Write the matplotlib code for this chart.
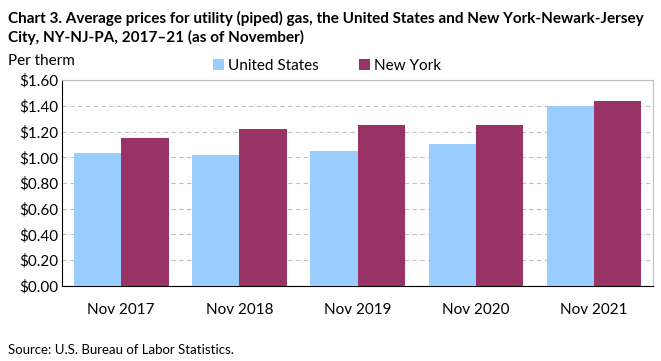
import numpy as np
import matplotlib
matplotlib.use("Agg")
from matplotlib import pyplot as plt

plt.rcParams['font.family'] = ['Lato', 'DejaVu Sans']

years = ['Nov 2017', 'Nov 2018', 'Nov 2019', 'Nov 2020', 'Nov 2021']
us = [1.03, 1.02, 1.05, 1.10, 1.40]
ny = [1.15, 1.22, 1.25, 1.25, 1.44]
yticks = np.arange(0, 1.61, 0.2)

fig = plt.figure(figsize=(6.61, 3.61), dpi=100)
ax = fig.add_axes([0.094, 0.208, 0.894, 0.570])

x = np.arange(len(years))
w = 0.4
ax.bar(x - w/2, us, w, color='#99CCFF', label='United States', zorder=3)
ax.bar(x + w/2, ny, w, color='#993366', label='New York', zorder=3)

ax.set_xlim(-0.5, len(years) - 0.5)
ax.set_ylim(0, 1.6)
ax.set_yticks(yticks)
ax.set_yticklabels(['$%.2f' % v for v in yticks])
ax.set_xticks(x)
ax.set_xticklabels(years)
ax.tick_params(axis='both', labelsize=11, colors='black', length=0)
ax.tick_params(axis='y', pad=3)
ax.tick_params(axis='x', pad=12)
ax.yaxis.grid(True, linestyle=(0, (4, 3)), color='#c0c0c0', linewidth=0.8, zorder=0)

for s in ['top', 'right']:
    ax.spines[s].set_color('#bfbfbf')
for s in ['left', 'bottom']:
    ax.spines[s].set_color('black')

fig.text(0.012, 0.97, 'Chart 3. Average prices for utility (piped) gas, the United States and New York-Newark-Jersey\nCity, NY-NJ-PA, 2017\u201321 (as of November)',
         fontsize=11, fontweight='bold', va='top', ha='left', linespacing=1.3)
fig.text(0.012, 0.83, 'Per therm', fontsize=11, va='center', ha='left')
fig.text(0.012, 0.03, 'Source: U.S. Bureau of Labor Statistics.', fontsize=9.5, va='center', ha='left')

fig.legend(loc='center', bbox_to_anchor=(0.495, 0.818), ncol=2, frameon=False, fontsize=11,
           handlelength=0.7, handleheight=0.7, handletextpad=0.3, columnspacing=2.6)

fig.savefig('out.png', dpi=100)
